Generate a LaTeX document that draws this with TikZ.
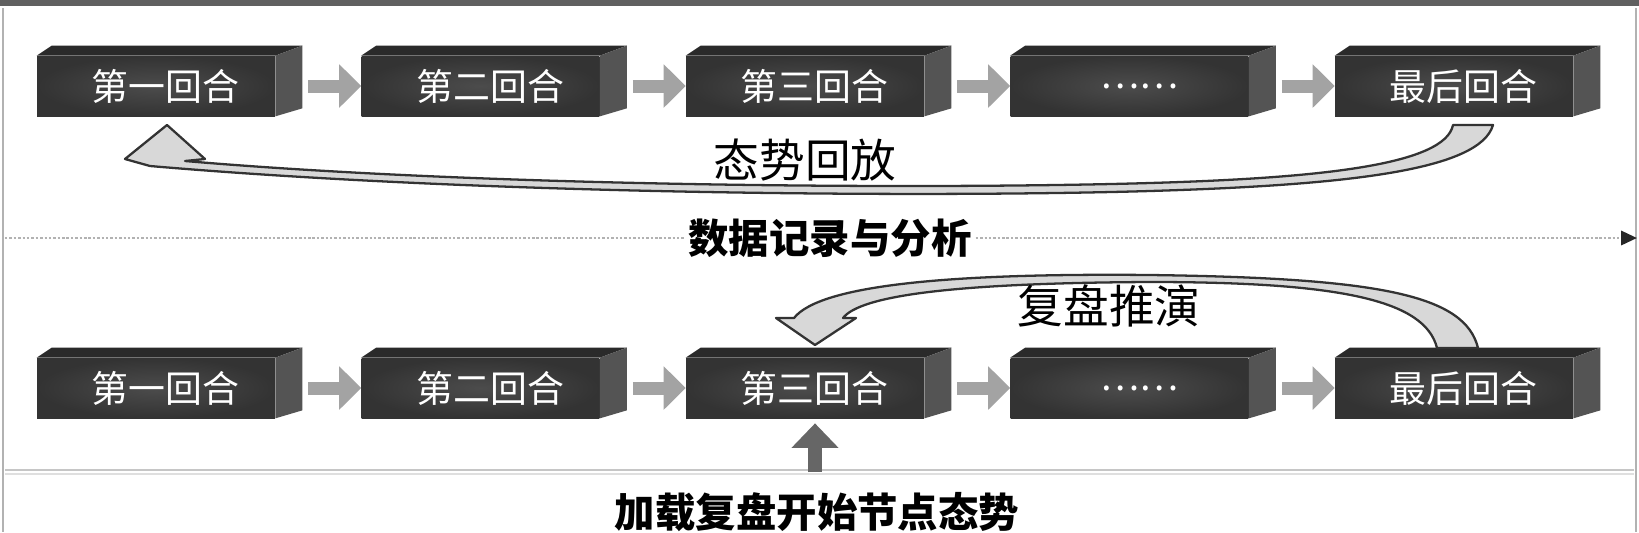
\documentclass[tikz,border=0pt]{standalone}
\usepackage{fontspec}
\newfontfamily\cjk{Noto Sans CJK SC}
\usetikzlibrary{arrows.meta,calc}
\definecolor{frontin}{HTML}{4C4C4C}
\definecolor{frontout}{HTML}{333333}
\definecolor{topc}{HTML}{2A2A2A}
\definecolor{sidec}{HTML}{545454}
\definecolor{flowc}{HTML}{A3A3A3}
\definecolor{bandc}{HTML}{D8D8D8}
\definecolor{edgec}{HTML}{333333}
\newcommand\boxfaces[1]{%
  \fill[topc] (#1.north west) -- ++(15,-10) -- ($(#1.north east)+(27,-10)$) -- (#1.north east) -- cycle;
  \fill[sidec] (#1.north east) -- ++(27,-10) -- ($(#1.south east)+(27,-8)$) -- (#1.south east) -- cycle;}
\begin{document}
\begin{tikzpicture}[x=0.02cm,y=-0.02cm,
  stepbox/.style={minimum width=4.76cm, minimum height=1.2cm, inner sep=0pt,
    inner color=frontin, outer color=frontout, text=white,
    font=\cjk\fontsize{21}{21}\selectfont},
  flow/.style={draw=flowc, line width=7.4pt, -{Triangle[length=12.5pt,width=24pt]}},
  band/.style={fill=bandc, draw=edgec, line width=1.3pt, line join=round},
  lab/.style={font=\cjk\fontsize{26}{26}\selectfont, inner sep=1pt},
  blab/.style={font=\cjk\bfseries\fontsize{23}{23}\selectfont, inner sep=2pt}]
\useasboundingbox (0,0) rectangle (1639,532);
\fill[white] (0,0) rectangle (1639,532);
% frame
\fill[gray!75!black] (0,0) rectangle (1639,6);
\draw[gray!60, line width=1.4pt] (3,8) -- (3,532);
\draw[gray!60, line width=1.4pt] (1636,8) -- (1636,532);
\draw[gray!45, line width=1.2pt] (5,470) -- (1634,470);
\draw[gray!25, line width=1.2pt] (5,474) -- (1634,474);
% dotted timeline
\coordinate (d0) at (5,238);
\coordinate (d1) at (1637,238);
\draw[gray!60, line width=1.6pt, dash pattern=on 1.4pt off 1.1pt,
  -{Triangle[length=9pt,width=8pt,fill=gray!30!black,color=gray!30!black]}] (d0) -- (d1);
% top row
\foreach \i/\L/\t in {1/37/第一回合,2/361.5/第二回合,3/686/第三回合,4/1010.5/……,5/1335/最后回合}{
  \node[stepbox] (b\i) at (\L+119,86) {\hspace*{11pt}\t};
  \boxfaces{b\i}
  \node[stepbox] (c\i) at (\L+119,388) {\hspace*{11pt}\t};
  \boxfaces{c\i}
}
\foreach \i/\j in {1/2,2/3,3/4,4/5}{
  \draw[flow] ($(b\i.east)+(33,0)$) -- (b\j.west);
  \draw[flow] ($(c\i.east)+(33,0)$) -- (c\j.west);
}
% top curved arrow (replay)
\draw[band] (1493,125) .. controls (1480,170) and (1350,185) .. (1150,191)
  .. controls (950,197) and (500,196) .. (150,166) -- (125,159) -- (167,125) -- (205,159) -- (185,161)
  .. controls (500,188) and (950,189) .. (1150,183)
  .. controls (1320,178) and (1445,165) .. (1453,125) -- cycle;
% bottom curved arrow (review)
\draw[band] (1478,348) .. controls (1465,295) and (1380,278) .. (1150,275)
  .. controls (950,273) and (820,285) .. (794,318) -- (776,318) -- (815,345) -- (856,318) -- (843,318)
  .. controls (860,296) and (950,283) .. (1150,282)
  .. controls (1340,282) and (1425,300) .. (1437,348) -- cycle;
% load arrow
\coordinate (u0) at (815,472);
\draw[draw=gray!80!black, line width=8.5pt, -{Triangle[length=14pt,width=26pt]}] (u0) -- ($(c3.south)+(10,5)$);
% labels
\node[lab] (t1) at (805,160) {态势回放};
\node[blab, fill=white] (t2) at (830,238) {数据记录与分析};
\node[lab] (t3) at (1109,306) {复盘推演};
\node[blab] (t4) at (817,512) {加载复盘开始节点态势};
\end{tikzpicture}
\end{document}
